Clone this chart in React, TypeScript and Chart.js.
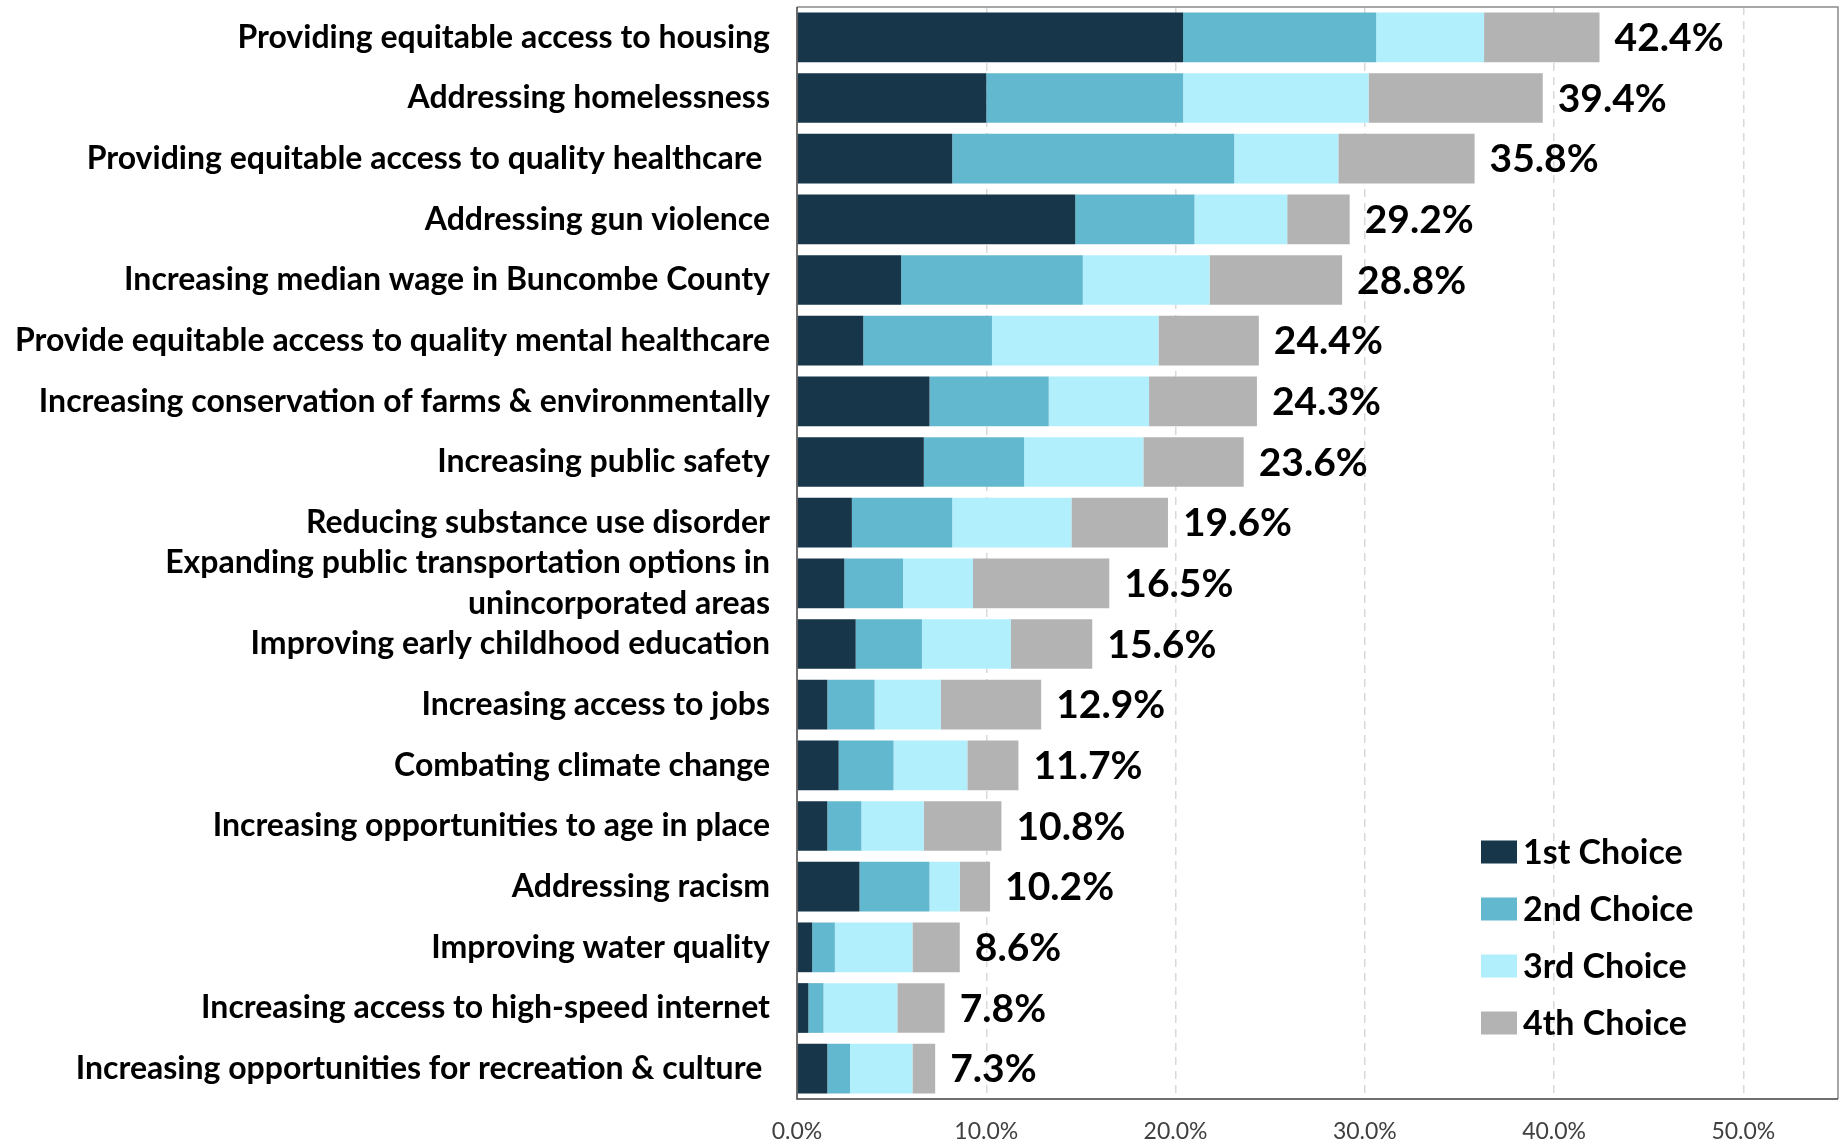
import React, { useEffect, useRef } from "react";
import { Chart, registerables } from "chart.js";

Chart.register(...registerables);

const categories: (string | string[])[] = [
  "Providing equitable access to housing",
  "Addressing homelessness",
  "Providing equitable access to quality healthcare ",
  "Addressing gun violence",
  "Increasing median wage in Buncombe County",
  "Provide equitable access to quality mental healthcare",
  "Increasing conservation of farms & environmentally",
  "Increasing public safety",
  "Reducing substance use disorder",
  ["Expanding public transportation options in", "unincorporated areas"],
  "Improving early childhood education",
  "Increasing access to jobs",
  "Combating climate change",
  "Increasing opportunities to age in place",
  "Addressing racism",
  "Improving water quality",
  "Increasing access to high-speed internet",
  "Increasing opportunities for recreation & culture ",
];

const seriesNames = ["1st Choice", "2nd Choice", "3rd Choice", "4th Choice"];
const seriesColors = ["#17364A", "#62B8CF", "#B2EFFC", "#B3B3B3"];

const firstChoice = [20.4, 10.0, 8.2, 14.7, 5.5, 3.5, 7.0, 6.7, 2.9, 2.5, 3.1, 1.6, 2.2, 1.6, 3.3, 0.8, 0.6, 1.6];
const secondChoice = [10.2, 10.4, 14.9, 6.3, 9.6, 6.8, 6.3, 5.3, 5.3, 3.1, 3.5, 2.5, 2.9, 1.8, 3.7, 1.2, 0.8, 1.2];
const thirdChoice = [5.7, 9.8, 5.5, 4.9, 6.7, 8.8, 5.3, 6.3, 6.3, 3.7, 4.7, 3.5, 3.9, 3.3, 1.6, 4.1, 3.9, 3.3];
const fourthChoice = [6.1, 9.2, 7.2, 3.3, 7.0, 5.3, 5.7, 5.3, 5.1, 7.2, 4.3, 5.3, 2.7, 4.1, 1.6, 2.5, 2.5, 1.2];
const totals = [42.4, 39.4, 35.8, 29.2, 28.8, 24.4, 24.3, 23.6, 19.6, 16.5, 15.6, 12.9, 11.7, 10.8, 10.2, 8.6, 7.8, 7.3];

const xTicks = [0, 10, 20, 30, 40, 50];

const FONT = "Lato";

const framePlugin = {
  id: "frame",
  afterDraw(chart: any) {
    const { ctx, chartArea: a } = chart;
    ctx.save();
    ctx.strokeStyle = "#8a8a8a";
    ctx.lineWidth = 1.5;
    ctx.beginPath();
    ctx.moveTo(a.left, a.top);
    ctx.lineTo(a.right, a.top);
    ctx.lineTo(a.right, a.bottom);
    ctx.stroke();
    ctx.strokeStyle = "#404040";
    ctx.beginPath();
    ctx.moveTo(a.left, a.top);
    ctx.lineTo(a.left, a.bottom);
    ctx.lineTo(a.right, a.bottom);
    ctx.stroke();
    ctx.restore();
  },
};

const totalsPlugin = {
  id: "totals",
  afterDatasetsDraw(chart: any) {
    const { ctx } = chart;
    const last = chart.data.datasets.length - 1;
    const meta = chart.getDatasetMeta(last);
    ctx.save();
    ctx.font = `bold 39px ${FONT}`;
    ctx.fillStyle = "#000000";
    ctx.textAlign = "left";
    ctx.textBaseline = "middle";
    meta.data.forEach((el: any, i: number) => {
      ctx.fillText(totals[i].toFixed(1) + "%", el.x + 15, el.y + 1);
    });
    ctx.restore();
  },
};

const legendPlugin = {
  id: "insideLegend",
  afterDraw(chart: any) {
    const { ctx } = chart;
    const left = 1481;
    const top0 = 852;
    const step = 57;
    ctx.save();
    ctx.font = `bold 34px ${FONT}`;
    ctx.textAlign = "left";
    ctx.textBaseline = "middle";
    chart.data.datasets.forEach((ds: any, i: number) => {
      const cy = top0 + i * step;
      ctx.fillStyle = ds.backgroundColor;
      ctx.fillRect(left, cy - 11.5, 36, 23);
      ctx.fillStyle = "#000000";
      ctx.fillText(ds.label, left + 42, cy + 1);
    });
    ctx.restore();
  },
};

export default function App() {
  const ref = useRef<HTMLCanvasElement | null>(null);

  useEffect(() => {
    document.body.style.margin = "0";
    const canvas = ref.current;
    if (!canvas) return;
    const seriesValues = [firstChoice, secondChoice, thirdChoice, fourthChoice];
    const chart = new Chart(canvas, {
      type: "bar",
      data: {
        labels: categories,
        datasets: seriesValues.map((vals, i) => ({
          label: seriesNames[i],
          data: vals,
          backgroundColor: seriesColors[i],
          borderWidth: 0,
          barPercentage: 0.82,
          categoryPercentage: 1,
        })),
      },
      options: {
        indexAxis: "y",
        responsive: false,
        animation: false,
        layout: { padding: { top: 7, right: 5, left: 0, bottom: 0 } },
        plugins: {
          legend: { display: false },
          tooltip: { enabled: false },
        },
        scales: {
          x: {
            stacked: true,
            min: 0,
            max: 55,
            afterBuildTicks: (s: any) => {
              s.ticks = xTicks.map((v) => ({ value: v }));
            },
            afterFit: (s: any) => {
              s.height = 45;
              s.paddingLeft = 0;
              s.paddingRight = 0;
              s.paddingTop = 0;
              s.paddingBottom = 0;
            },
            ticks: {
              callback: (v: any) => Number(v).toFixed(1) + "%",
              color: "#404040",
              font: { family: FONT, size: 23 },
              padding: 19,
            },
            grid: {
              drawTicks: false,
              lineWidth: 1.5,
              color: (c: any) => (c.tick && c.tick.value === 0 ? "rgba(0,0,0,0)" : "#d9d9d9"),
            },
            border: { display: false, dash: [8, 6] },
          },
          y: {
            stacked: true,
            afterFit: (s: any) => {
              s.width = 797;
              s.paddingTop = 0;
              s.paddingBottom = 0;
              s.paddingLeft = 0;
              s.paddingRight = 0;
            },
            grid: { display: false, drawTicks: false, tickLength: 0 },
            border: { display: false },
            ticks: {
              autoSkip: false,
              color: "#000000",
              font: { family: FONT, size: 32, weight: "bold", lineHeight: 1.28 },
              padding: 27,
            },
          },
        },
      },
      plugins: [framePlugin, totalsPlugin, legendPlugin],
    });
    return () => chart.destroy();
  }, []);

  return (
    <div style={{ width: 1843, height: 1144, position: "relative" }}>
      <canvas ref={ref} width={1843} height={1144} style={{ display: "block" }} />
    </div>
  );
}
